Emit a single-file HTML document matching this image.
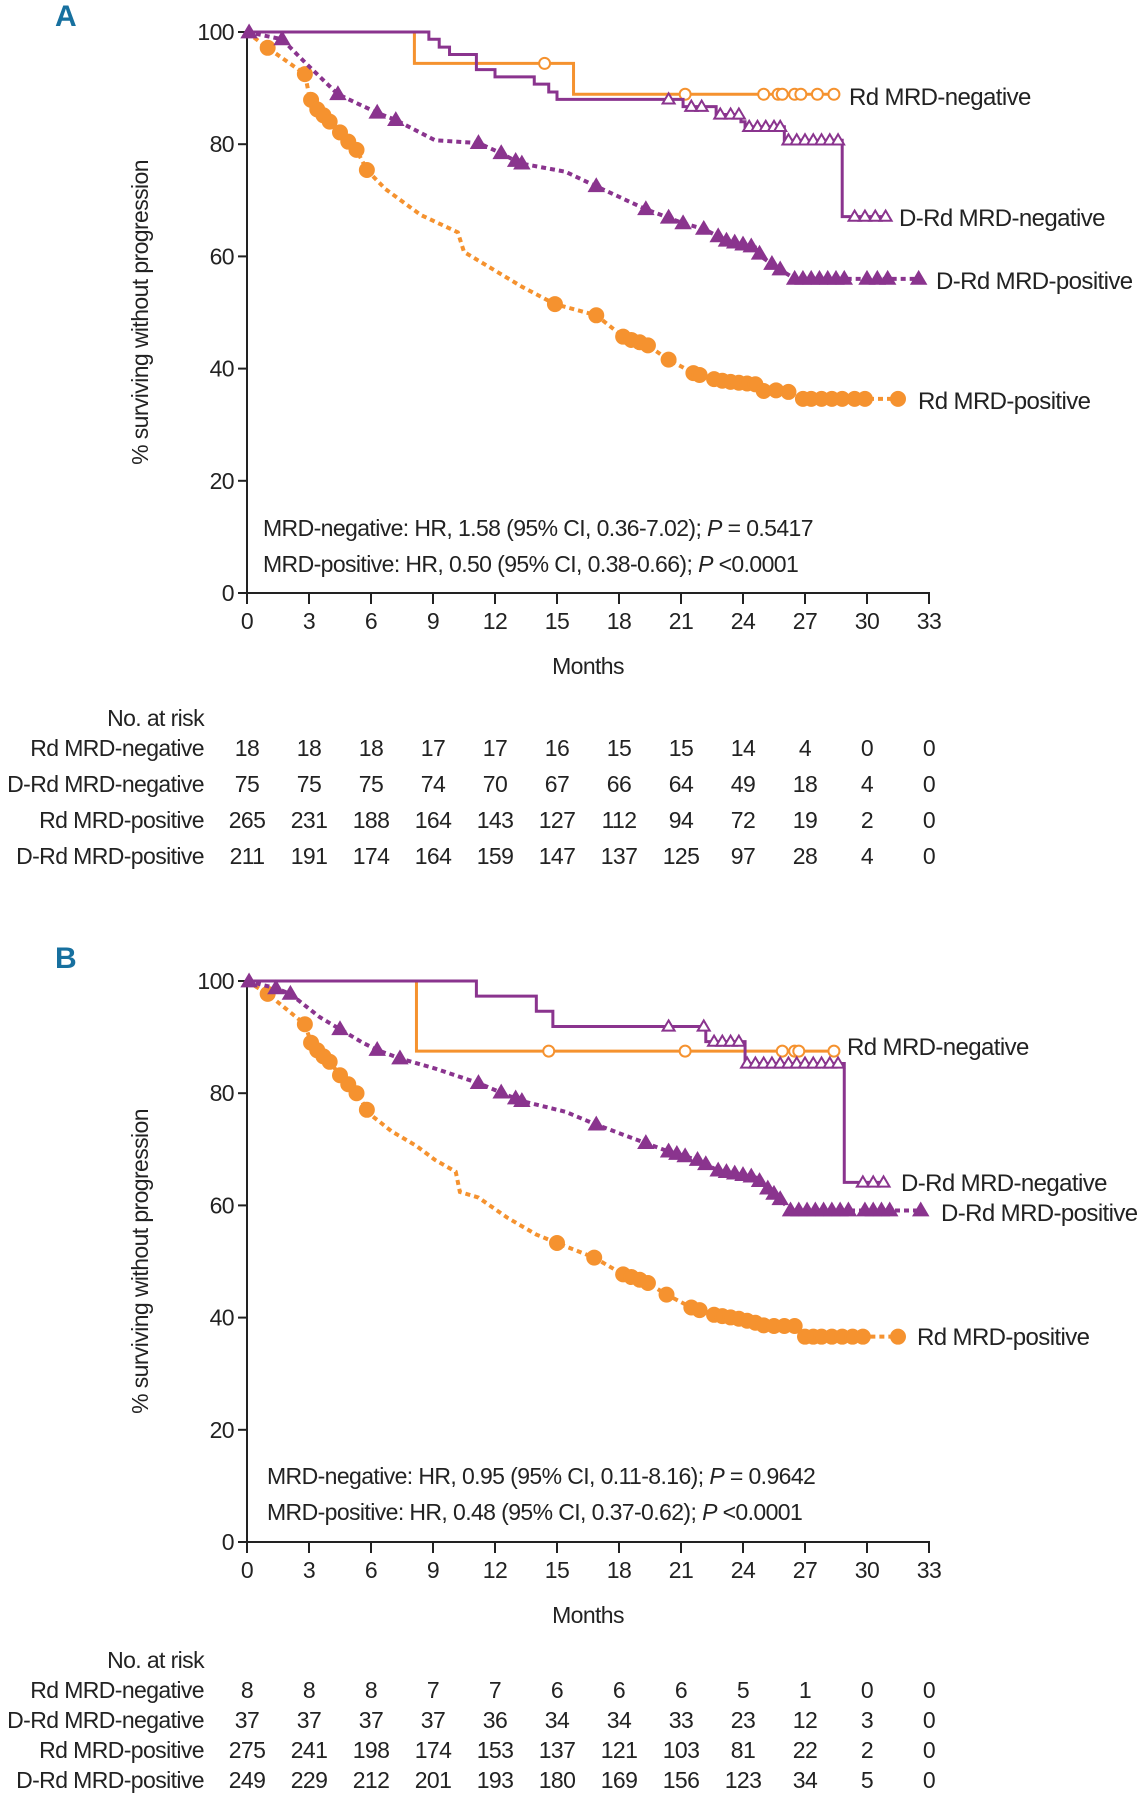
<!DOCTYPE html>
<html><head><meta charset="utf-8"><style>
html,body{margin:0;padding:0;background:#fff;}
svg{display:block;font-family:"Liberation Sans",sans-serif;}
text{fill:#222;letter-spacing:-0.6px;}
</style></head><body>
<svg id="fig" width="1139" height="1800" viewBox="0 0 1139 1800"></svg>
<script>
// ===== Data =====
const monthTicks = [0,3,6,9,12,15,18,21,24,27,30,33];
const yTicks = [0,20,40,60,80,100];
const riskLabels = ["Rd MRD-negative","D-Rd MRD-negative","Rd MRD-positive","D-Rd MRD-positive"];
// Panel A
const aRiskRdNeg = [18,18,18,17,17,16,15,15,14,4,0,0];
const aRiskDRdNeg = [75,75,75,74,70,67,66,64,49,18,4,0];
const aRiskRdPos = [265,231,188,164,143,127,112,94,72,19,2,0];
const aRiskDRdPos = [211,191,174,164,159,147,137,125,97,28,4,0];
const aRdNegT = [0,8.1,15.8,28.4];
const aRdNegV = [100,94.4,88.9,88.9];
const aRdNegCensT = [14.4,21.2,25,25.7,25.9,26.5,26.8,27.6,28.4];
const aDRdNegT = [0,8.8,9.3,9.8,11.1,12.0,13.9,14.6,15.0,21.1,22.7,23.9,24.1,26.0,28.8,30.9];
const aDRdNegV = [100,98.7,97.3,96,93.3,92,90.7,89.3,88,86.7,85.3,84,83.1,80.7,67.1,67.1];
const aDRdNegCensT = [20.4,21.5,22.0,22.9,23.4,23.8,24.3,24.7,25.1,25.5,25.8,26.2,26.6,27.0,27.4,27.8,28.2,28.6,29.4,29.9,30.4,30.9];
const aRdPosT = [0,0.84,2.8,3.0,3.2,3.8,4.5,4.8,5.2,5.8,6.7,8.4,10.2,10.5,11.9,13.3,14.9,16.9,18.3,19.3,20.3,21.6,22.5,23.2,24.6,24.9,26.0,26.9,29.9,31.6];
const aRdPosV = [100,97.6,92.5,88.9,86.9,84.8,82.1,80.7,79.7,75.4,72,67.4,64.3,60.8,57.7,54.6,51.5,49.5,45.4,44.4,41.8,39.2,38.2,37.7,37.2,36.0,36.2,34.6,34.6,34.6];
const aRdPosCensT = [1.0,2.8,3.1,3.4,3.7,4.0,4.5,4.9,5.3,5.8,14.9,16.9,18.2,18.6,19.0,19.4,20.4,21.6,21.9,22.6,23.0,23.4,23.8,24.2,24.6,25.0,25.6,26.2,26.9,27.3,27.8,28.3,28.8,29.4,29.9,31.5];
const aDRdPosT = [0,1.7,2.8,4.4,6.3,7.2,9.1,11.2,12.3,13.2,15.4,16.9,19.3,20.4,21.1,22.1,23.2,24.6,24.9,25.7,26.5,29.2,32.5];
const aDRdPosV = [100,98.7,94.6,88.9,85.6,84.3,80.7,80.2,78.4,76.6,75.1,72.5,68.4,66.9,65.9,64.9,62.8,61.6,59.9,57.9,56,56,56];
const aDRdPosCensT = [0.1,1.7,4.4,6.3,7.2,11.2,12.3,13.0,13.3,16.9,19.3,20.4,21.1,22.1,22.8,23.2,23.6,24.0,24.4,24.8,25.4,25.8,26.5,26.9,27.3,27.7,28.1,28.5,28.9,30.0,30.5,31.0,32.5];
// Panel B
const bRiskRdNeg = [8,8,8,7,7,6,6,6,5,1,0,0];
const bRiskDRdNeg = [37,37,37,37,36,34,34,33,23,12,3,0];
const bRiskRdPos = [275,241,198,174,153,137,121,103,81,22,2,0];
const bRiskDRdPos = [249,229,212,201,193,180,169,156,123,34,5,0];
const bRdNegT = [0,8.2,28.4];
const bRdNegV = [100,87.5,87.5];
const bRdNegCensT = [14.6,21.2,25.9,26.5,26.7,28.4];
const bDRdNegT = [0,11.1,14.0,14.8,22.2,24.1,28.9,30.8];
const bDRdNegV = [100,97.3,94.6,91.9,89.2,85.3,64.1,64.1];
const bDRdNegCensT = [20.4,22.1,22.6,23.0,23.4,23.8,24.2,24.6,25.0,25.4,25.8,26.2,26.6,27.0,27.4,27.8,28.2,28.6,29.8,30.3,30.8];
const bRdPosT = [0,1.0,2.8,3.1,3.5,4.0,4.5,5.1,5.4,5.9,7.0,8.2,9.1,10.1,10.3,11.2,12.6,14.0,15.0,16.8,18.2,19.3,20.3,21.5,22.6,23.8,24.7,25.1,26.6,27.0,30.1,31.5];
const bRdPosV = [100,97.7,92.3,89,87.2,85.6,83.2,80.8,79.6,76.4,73.2,70.6,68.1,66,62.4,61.4,57.8,54.8,53.3,50.7,47.7,46.4,44.1,41.8,40.5,39.8,39,38.5,38.5,36.6,36.6,36.6];
const bRdPosCensT = [1.0,2.8,3.1,3.4,3.7,4.0,4.5,4.9,5.3,5.8,15.0,16.8,18.2,18.6,19.0,19.4,20.3,21.5,21.9,22.6,23.0,23.4,23.8,24.2,24.6,25.0,25.5,26.0,26.5,27.0,27.4,27.8,28.3,28.8,29.3,29.8,31.5];
const bDRdPosT = [0,1.4,2.1,3.5,4.5,5.6,6.3,7.4,9.1,11.2,12.3,13.3,15.4,16.9,19.3,20.4,21.8,22.8,24.6,25.2,25.8,26.3,29.1,32.6];
const bDRdPosV = [100,98.7,97.7,93.6,91.4,89,87.7,86.2,84.4,81.8,80.1,78.6,76.7,74.4,71.1,69.6,68.1,66.2,65,63,61.1,59.1,59.1,59.1];
const bDRdPosCensT = [0.1,1.4,2.1,4.5,6.3,7.4,11.2,12.3,13.0,13.3,16.9,19.3,20.4,20.8,21.2,21.8,22.2,22.8,23.2,23.6,24.0,24.4,24.8,25.2,25.5,25.8,26.3,26.7,27.1,27.5,27.9,28.3,28.7,29.1,29.9,30.3,30.7,31.1,32.6];

const ORANGE = "#F5922F", PURPLE = "#8A348E";
const NS = "http://www.w3.org/2000/svg";
const svg = document.getElementById("fig");
function el(tag, attrs, parent) {
  const e = document.createElementNS(NS, tag);
  for (const k in attrs) e.setAttribute(k, attrs[k]);
  (parent || svg).appendChild(e);
  return e;
}
function txt(s, x, y, attrs, parent) {
  const t = el("text", Object.assign({x: x, y: y, "font-size": 23}, attrs || {}), parent);
  t.textContent = s;
  return t;
}
function stepVal(T, V, t) {
  let v = V[0];
  for (let i = 0; i < T.length; i++) if (T[i] <= t) v = V[i];
  return v;
}
function linVal(T, V, t) {
  if (t <= T[0]) return V[0];
  for (let i = 1; i < T.length; i++) {
    if (t <= T[i]) { const f = (t - T[i-1]) / (T[i] - T[i-1] || 1); return V[i-1] + f * (V[i] - V[i-1]); }
  }
  return V[V.length - 1];
}

function panel(cfg) {
  const g = el("g", {});
  
  
  const X0 = 247, X1 = 929, Y100 = cfg.top, Y0 = cfg.top + 561;
  const xs = m => X0 + (X1 - X0) * m / 33;
  const ys = v => Y0 - (Y0 - Y100) * v / 100;

  const lab = txt(cfg.letter, 55, cfg.letterY, {"font-size": 30, "font-weight": "bold", style: "fill:#17709f"}, g);
  
  

  const ax = el("path", {d: `M${X0},${Y100} V${Y0} H${X1} V${Y0+11}`, stroke: "#222", "stroke-width": 2, fill: "none"}, g);
  
  
  yTicks.forEach(v => {
    el("line", {x1: X0 - 9, x2: X0, y1: ys(v), y2: ys(v), stroke: "#222", "stroke-width": 2}, g);
    const t = txt(String(v), X0 - 13, ys(v) + 8, {"text-anchor": "end"}, g);
    
    
  });
  monthTicks.forEach(m => {
    el("line", {x1: xs(m), x2: xs(m), y1: Y0, y2: Y0 + 11, stroke: "#222", "stroke-width": 2}, g);
    const t = txt(String(m), xs(m), Y0 + 36, {"text-anchor": "middle"}, g);
    
    
  });
  const yt = txt("% surviving without progression", 0, 0, {"text-anchor": "middle", transform: `translate(148,${(Y0 + Y100) / 2}) rotate(-90)`}, g);
  
  
  const xt = txt("Months", (X0 + X1) / 2, Y0 + 81, {"text-anchor": "middle"}, g);
  
  

  cfg.series.forEach(s => {
    let d = `M${xs(s.T[0])},${ys(s.V[0])}`;
    for (let i = 1; i < s.T.length; i++) {
      if (s.dashed) d += ` L${xs(s.T[i])},${ys(s.V[i])}`;
      else d += ` H${xs(s.T[i])} V${ys(s.V[i])}`;
    }
    const p = el("path", {d: d, fill: "none", stroke: s.color, "stroke-width": s.dashed ? 4 : 3, "stroke-dasharray": s.dashed ? "5 4" : "none"}, g);
    
    
    s.C.forEach(t => {
      const cx = xs(t), cy = ys(s.dashed ? linVal(s.T, s.V, t) : stepVal(s.T, s.V, t));
      let m;
      if (s.marker === "circle") m = el("circle", {cx: cx, cy: cy, r: s.filled ? 7 : 5.5, fill: s.filled ? s.color : "#fff", stroke: s.color, "stroke-width": 2}, g);
      else { const h = s.filled ? 7 : 6;
        m = el("path", {d: `M${cx},${cy - h} L${cx + h},${cy + h * 0.7} L${cx - h},${cy + h * 0.7} Z`, fill: s.filled ? s.color : "#fff", stroke: s.color, "stroke-width": 2}, g); }
      
      
    });
    const l = txt(s.label, s.lx, s.ly, {"font-size": 24}, g);
    
    
  });

  cfg.hr.forEach((h, i) => {
    const t = el("text", {x: cfg.hrX, y: cfg.hrY + i * 36, "font-size": 23}, g);
    
    
    const a = document.createElementNS(NS, "tspan"); a.textContent = h[0]; t.appendChild(a);
    const b = document.createElementNS(NS, "tspan"); b.setAttribute("font-style", "italic"); b.textContent = "P"; t.appendChild(b);
    const c = document.createElementNS(NS, "tspan"); c.textContent = h[1]; t.appendChild(c);
  });

  const rt = txt("No. at risk", 204, cfg.riskTitleY, {"text-anchor": "end"}, g);
  
  
  cfg.risk.forEach((row, r) => {
    const y = cfg.riskY[r];
    const l = txt(riskLabels[r], 204, y, {"text-anchor": "end"}, g);
    
    
    row.forEach((n, i) => {
      const t = txt(String(n), xs(monthTicks[i]), y, {"text-anchor": "middle"}, g);
      
      
    });
  });
}

panel({name: "panel-a", letter: "A", letterY: 26, top: 32,
  series: [
    {key: "a-rd-neg", T: aRdNegT, V: aRdNegV, C: aRdNegCensT, color: ORANGE, dashed: false, marker: "circle", filled: false, label: "Rd MRD-negative", lx: 849, ly: 105},
    {key: "a-drd-neg", T: aDRdNegT, V: aDRdNegV, C: aDRdNegCensT, color: PURPLE, dashed: false, marker: "tri", filled: false, label: "D-Rd MRD-negative", lx: 899, ly: 226},
    {key: "a-rd-pos", T: aRdPosT, V: aRdPosV, C: aRdPosCensT, color: ORANGE, dashed: true, marker: "circle", filled: true, label: "Rd MRD-positive", lx: 918, ly: 409},
    {key: "a-drd-pos", T: aDRdPosT, V: aDRdPosV, C: aDRdPosCensT, color: PURPLE, dashed: true, marker: "tri", filled: true, label: "D-Rd MRD-positive", lx: 936, ly: 289}
  ],
  hr: [["MRD-negative: HR, 1.58 (95% CI, 0.36-7.02); ", " = 0.5417"], ["MRD-positive: HR, 0.50 (95% CI, 0.38-0.66); ", " <0.0001"]],
  hrX: 263, hrY: 536,
  riskTitleY: 726, riskY: [756, 792, 828, 864],
  risk: [aRiskRdNeg, aRiskDRdNeg, aRiskRdPos, aRiskDRdPos]});

panel({name: "panel-b", letter: "B", letterY: 968, top: 981,
  series: [
    {key: "b-rd-neg", T: bRdNegT, V: bRdNegV, C: bRdNegCensT, color: ORANGE, dashed: false, marker: "circle", filled: false, label: "Rd MRD-negative", lx: 847, ly: 1055},
    {key: "b-drd-neg", T: bDRdNegT, V: bDRdNegV, C: bDRdNegCensT, color: PURPLE, dashed: false, marker: "tri", filled: false, label: "D-Rd MRD-negative", lx: 901, ly: 1191},
    {key: "b-rd-pos", T: bRdPosT, V: bRdPosV, C: bRdPosCensT, color: ORANGE, dashed: true, marker: "circle", filled: true, label: "Rd MRD-positive", lx: 917, ly: 1345},
    {key: "b-drd-pos", T: bDRdPosT, V: bDRdPosV, C: bDRdPosCensT, color: PURPLE, dashed: true, marker: "tri", filled: true, label: "D-Rd MRD-positive", lx: 941, ly: 1221}
  ],
  hr: [["MRD-negative: HR, 0.95 (95% CI, 0.11-8.16); ", " = 0.9642"], ["MRD-positive: HR, 0.48 (95% CI, 0.37-0.62); ", " <0.0001"]],
  hrX: 267, hrY: 1484,
  riskTitleY: 1668, riskY: [1698, 1728, 1758, 1788],
  risk: [bRiskRdNeg, bRiskDRdNeg, bRiskRdPos, bRiskDRdPos]});
</script>
</body></html>
